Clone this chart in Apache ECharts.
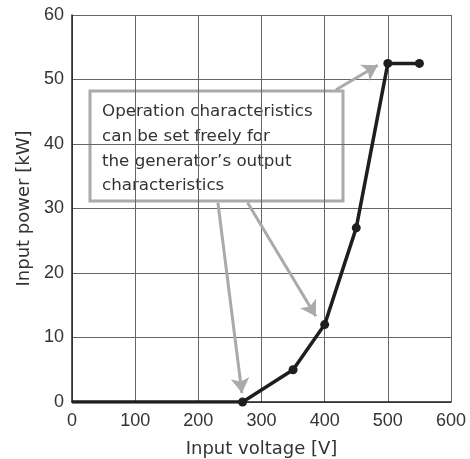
<!DOCTYPE html>
<html><head><meta charset="utf-8">
<script src="https://cdn.jsdelivr.net/npm/echarts@6/dist/echarts.min.js"></script>
<style>html,body{margin:0;padding:0;background:#fff}#c{width:470px;height:459px}</style>
</head><body><div id="c"></div>
<script>
const voltage = [0, 270, 350, 400, 450, 500, 550];
const power = [0, 0, 5, 12, 27, 52.5, 52.5];
const xTicks = [0, 100, 200, 300, 400, 500, 600];
const yTicks = [0, 10, 20, 30, 40, 50, 60];
const noteLines = ['Operation characteristics', 'can be set freely for', 'the generator\u2019s output', 'characteristics'];
const arrows = [
  [[418, 48.4], [484, 52.2]],
  [[278, 30.9], [386, 13.3]],
  [[231, 30.9], [269, 1.4]]
];
const tickFont = 'Liberation Sans, Arial, sans-serif';
const textFont = 'DejaVu Sans, sans-serif';
const chart = echarts.init(document.getElementById('c'));
const data = voltage.map((v, i) => i === 0 ? {value: [v, power[i]], symbol: 'none'} : [v, power[i]]);
chart.setOption({
  animation: false,
  grid: {left: 72, right: 19, top: 15, bottom: 57, containLabel: false, outerBoundsMode: 'none'},
  xAxis: {
    type: 'value', min: xTicks[0], max: xTicks[xTicks.length-1], interval: 100,
    name: 'Input voltage [V]', nameLocation: 'middle', nameGap: 38,
    nameTextStyle: {fontSize: 18, color: '#333', fontFamily: textFont},
    axisLine: {lineStyle: {color: '#222', width: 1.5}},
    axisTick: {show: false},
    axisLabel: {fontSize: 18, color: '#333', margin: 10, fontFamily: tickFont},
    splitLine: {lineStyle: {color: '#666', width: 1}}
  },
  yAxis: {
    type: 'value', min: yTicks[0], max: yTicks[yTicks.length-1], interval: 10,
    name: 'Input power [kW]', nameLocation: 'middle', nameGap: 38,
    nameTextStyle: {fontSize: 18, color: '#333', fontFamily: textFont},
    axisLine: {show: true, lineStyle: {color: '#222', width: 1.5}},
    axisTick: {show: false},
    axisLabel: {fontSize: 18, color: '#333', margin: 8, fontFamily: tickFont, padding: [5, 0, 0, 0]},
    splitLine: {lineStyle: {color: '#666', width: 1}}
  },
  series: [{
    type: 'line', data: data, symbol: 'circle', symbolSize: 9,
    lineStyle: {color: '#1e1e1e', width: 3.5}, itemStyle: {color: '#1e1e1e'},
    z: 3,
    markLine: {
      silent: true, symbol: ['none', 'arrow'], symbolSize: [14, 15],
      label: {show: false},
      lineStyle: {color: '#aaa', width: 3, type: 'solid'},
      data: arrows.map(a => [{coord: a[0]}, {coord: a[1]}])
    }
  }],
  graphic: [{
    type: 'group', z: 100,
    children: [
      {type: 'rect', shape: {x: 90, y: 91, width: 253, height: 110},
       style: {fill: '#fff', stroke: '#aaa', lineWidth: 3}},
      {type: 'text', x: 102, y: 99.5,
       style: {text: noteLines.join('\n'), fontSize: 16.7, lineHeight: 24.7, fill: '#333', fontFamily: textFont}}
    ]
  }]
});
</script></body></html>
